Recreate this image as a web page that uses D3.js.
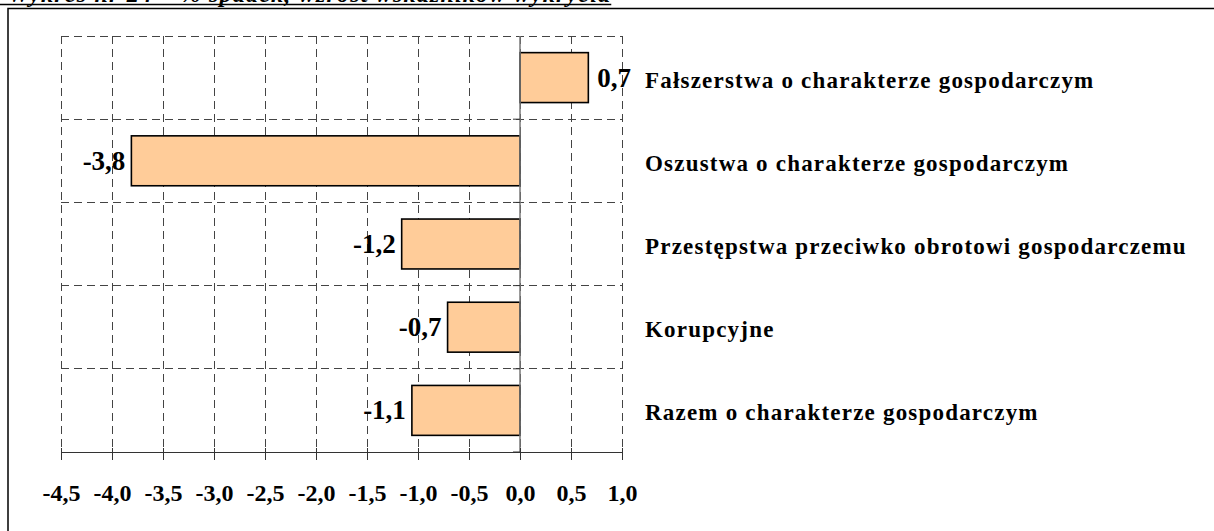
<!DOCTYPE html>
<html>
<head>
<meta charset="utf-8">
<script src="https://cdn.jsdelivr.net/npm/d3@7"></script>
<style>
  body { margin: 0; background: #fff; }
  svg { display: block; }
  text { font-family: "Liberation Serif", "Times New Roman", serif; font-weight: bold; fill: #000; }
</style>
</head>
<body>
<div id="chart"></div>
<script>
// Data
const categories = [
    'Fałszerstwa o charakterze gospodarczym',
    'Oszustwa o charakterze gospodarczym',
    'Przestępstwa przeciwko obrotowi gospodarczemu',
    'Korupcyjne',
    'Razem o charakterze gospodarczym'
];
const values = [0.67, -3.81, -1.16, -0.71, -1.06];
const tickValues = [-4.5, -4.0, -3.5, -3.0, -2.5, -2.0, -1.5, -1.0, -0.5, 0.0, 0.5, 1.0];
const titleText = 'Wykres nr 24 – % spadek, wzrost wskaźników wykrycia';

// Polish number format: one decimal, comma separator, plain hyphen for minus
const plFormat = v => v.toFixed(1).replace('.', ',');

const svgWidth = 1214;
const svgHeight = 531;

const svg = d3.select('#chart').append('svg')
    .attr('width', svgWidth)
    .attr('height', svgHeight);

// Title, mostly cut off by the top of the picture (as in the source)
const title = svg.append('text')
    .attr('x', 8)
    .attr('y', 2)
    .style('font-style', 'italic')
    .style('font-size', '24px')
    .style('letter-spacing', '1.2px')
    .text(titleText);

const titleEnd = 8 + title.node().getComputedTextLength();
svg.append('line')
    .attr('x1', 0).attr('x2', titleEnd)
    .attr('y1', 4.5).attr('y2', 4.5)
    .attr('stroke', '#000')
    .attr('stroke-width', 1.5);

// Frame (its right and bottom sides are outside the picture)
svg.append('path')
    .attr('d', `M8,${svgHeight} L8,8.5 L${svgWidth},8.5`)
    .attr('fill', 'none')
    .attr('stroke', '#000')
    .attr('stroke-width', 1.5);

const xScale = d3.scaleLinear()
    .domain([-4.5, 1.0])
    .range([61, 622]);

const plotTop = 36, plotBottom = 452;

const yScale = d3.scaleBand()
    .domain(categories)
    .range([plotTop, plotBottom])
    .paddingInner(0.4)
    .paddingOuter(0.2);

const step = yScale.step();

// Dashed grid
const grid = svg.append('g')
    .attr('stroke', '#444')
    .attr('stroke-width', 1)
    .attr('stroke-dasharray', '8,5')
    .attr('shape-rendering', 'crispEdges');

grid.selectAll('line.v')
    .data(tickValues)
    .enter()
    .append('line')
    .attr('class', 'v')
    .attr('x1', d => xScale(d)).attr('x2', d => xScale(d))
    .attr('y1', plotTop).attr('y2', plotBottom);

grid.selectAll('line.h')
    .data(d3.range(categories.length))
    .enter()
    .append('line')
    .attr('class', 'h')
    .attr('x1', xScale(-4.5)).attr('x2', xScale(1.0))
    .attr('y1', i => plotTop + i * step).attr('y2', i => plotTop + i * step);

// Bars
svg.selectAll('rect.bar')
    .data(values)
    .enter()
    .append('rect')
    .attr('class', 'bar')
    .attr('x', d => xScale(Math.min(0, d)))
    .attr('y', (d, i) => yScale(categories[i]))
    .attr('width', d => Math.abs(xScale(d) - xScale(0)))
    .attr('height', yScale.bandwidth())
    .attr('fill', '#FFCC99')
    .attr('stroke', '#000')
    .attr('stroke-width', 1.6);

// Vertical axis at zero
svg.append('line')
    .attr('x1', xScale(0)).attr('x2', xScale(0))
    .attr('y1', plotTop).attr('y2', plotBottom)
    .attr('stroke', '#777')
    .attr('stroke-width', 1.5);

svg.selectAll('line.ytick')
    .data(d3.range(categories.length))
    .enter()
    .append('line')
    .attr('class', 'ytick')
    .attr('x1', xScale(0) - 7).attr('x2', xScale(0))
    .attr('y1', i => plotTop + (i + 1) * step).attr('y2', i => plotTop + (i + 1) * step)
    .attr('stroke', '#333')
    .attr('stroke-width', 1);

// Horizontal axis
const xAxis = svg.append('g')
    .attr('transform', `translate(0,${plotBottom})`)
    .call(d3.axisBottom(xScale)
        .tickValues(tickValues)
        .tickFormat(plFormat)
        .tickSize(8)
        .tickPadding(24)
        .tickSizeOuter(0));

xAxis.select('.domain').attr('stroke', '#333').attr('stroke-width', 1.2);
xAxis.selectAll('.tick line').attr('stroke', '#333').attr('y1', -4);
xAxis.selectAll('.tick text')
    .attr('font-family', null)
    .attr('font-size', null)
    .style('font-family', '"Liberation Serif", "Times New Roman", serif')
    .style('font-weight', 'bold')
    .style('font-size', '24px')
    .attr('fill', '#000');

// Value labels
svg.selectAll('text.value')
    .data(values)
    .enter()
    .append('text')
    .attr('class', 'value')
    .attr('x', d => d >= 0 ? xScale(d) + 9 : xScale(d) - 6)
    .attr('y', (d, i) => yScale(categories[i]) + yScale.bandwidth() / 2 + 9)
    .attr('text-anchor', d => d >= 0 ? 'start' : 'end')
    .style('font-size', '27px')
    .text(plFormat);

// Category labels on the right
svg.selectAll('text.cat')
    .data(categories)
    .enter()
    .append('text')
    .attr('class', 'cat')
    .attr('x', 645)
    .attr('y', d => yScale(d) + yScale.bandwidth() / 2 + 10)
    .style('font-size', '23px')
    .style('letter-spacing', '1.2px')
    .text(d => d);
</script>
</body>
</html>
